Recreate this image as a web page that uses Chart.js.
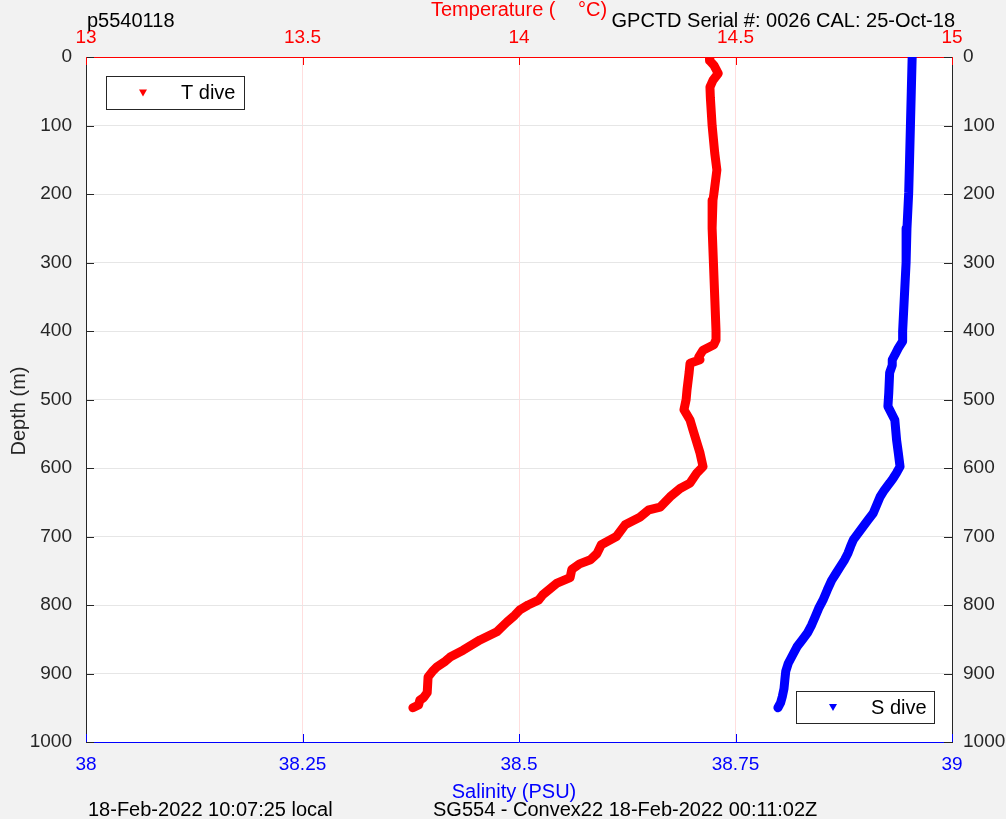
<!DOCTYPE html>
<html>
<head>
<meta charset="utf-8">
<script src="https://cdn.jsdelivr.net/npm/chart.js@4"></script>
<style>
html,body{margin:0;padding:0;background:#f2f2f2;}
#wrap{width:1006px;height:819px;position:relative;}
</style>
</head>
<body>
<div id="wrap"><canvas id="c" width="1006" height="819"></canvas></div>
<script>
// ---- data ----
const tempDepth = [0,5,12,24,34,44,60,100,140,165,200,209,250,300,350,400,413,420,428,438,442,447,460,486,500,515,530,545,578,598,607,622,630,642,657,661,672,683,700,712,725,734,740,748,760,768,785,793,800,807,815,825,839,851,866,876,882,890,897,905,928,935,939,946,950];
const tempValues = [14.441,14.440,14.450,14.460,14.448,14.441,14.442,14.446,14.452,14.457,14.450,14.448,14.446,14.449,14.452,14.455,14.455,14.450,14.425,14.415,14.418,14.395,14.393,14.388,14.386,14.381,14.395,14.402,14.418,14.425,14.411,14.395,14.372,14.349,14.326,14.300,14.279,14.245,14.225,14.190,14.180,14.165,14.140,14.122,14.118,14.088,14.055,14.045,14.021,14.002,13.990,13.972,13.949,13.910,13.871,13.841,13.830,13.811,13.800,13.790,13.788,13.780,13.771,13.768,13.755];

const salDepth = [0,50,100,150,198,250,300,350,400,415,425,435,442,450,461,490,510,530,559,578,598,607,615,622,632,642,654,666,676,686,705,714,724,734,744,754,764,778,793,805,817,829,841,851,861,873,885,897,909,922,934,943,950];
const salValues = [38.954,38.953,38.952,38.951,38.950,38.948,38.947,38.945,38.943,38.943,38.938,38.934,38.931,38.931,38.928,38.927,38.926,38.934,38.936,38.938,38.940,38.936,38.932,38.928,38.922,38.917,38.913,38.909,38.903,38.897,38.886,38.883,38.880,38.876,38.871,38.866,38.861,38.856,38.851,38.846,38.842,38.838,38.833,38.827,38.821,38.816,38.811,38.808,38.807,38.806,38.804,38.802,38.799];

const tempTicks = [13, 13.5, 14, 14.5, 15];
const salTicks = [38, 38.25, 38.5, 38.75, 39];
const depthTicks = [0,100,200,300,400,500,600,700,800,900,1000];

const FONT = "'Liberation Sans', Arial, sans-serif";
const DARK = '#262626';

const tData = tempDepth.map((d,i)=>({x:tempValues[i], y:d}));
const sData = salDepth.map((d,i)=>({x:salValues[i], y:d}));

function fixSize(prop, v){ return function(scale){ scale[prop] = v; }; }

const extras = {
  id:'extras',
  beforeDraw(chart){
    const {ctx, chartArea:a} = chart;
    ctx.save();
    ctx.fillStyle = '#f2f2f2';
    ctx.fillRect(0,0,chart.width,chart.height);
    ctx.fillStyle = '#ffffff';
    ctx.fillRect(a.left, a.top, a.right-a.left, a.bottom-a.top);
    ctx.restore();
  },
  afterDraw(chart){
    const {ctx, chartArea:a, scales} = chart;
    ctx.save();
    // inward tick marks
    ctx.lineWidth = 1;
    ctx.strokeStyle = DARK;
    depthTicks.forEach(v=>{
      const y = Math.round(scales.y.getPixelForValue(v))+0.5;
      ctx.beginPath(); ctx.moveTo(a.left, y); ctx.lineTo(a.left+8, y); ctx.stroke();
      ctx.beginPath(); ctx.moveTo(a.right, y); ctx.lineTo(a.right-8, y); ctx.stroke();
    });
    ctx.strokeStyle = '#ff0000';
    tempTicks.forEach(v=>{
      const x = Math.round(scales.xT.getPixelForValue(v))+0.5;
      ctx.beginPath(); ctx.moveTo(x, a.top); ctx.lineTo(x, a.top+8); ctx.stroke();
    });
    ctx.strokeStyle = '#0000ff';
    salTicks.forEach(v=>{
      const x = Math.round(scales.xS.getPixelForValue(v))+0.5;
      ctx.beginPath(); ctx.moveTo(x, a.bottom); ctx.lineTo(x, a.bottom-8); ctx.stroke();
    });
    // legends
    function legend(x0,y0,w,h,color,label){
      ctx.fillStyle = '#ffffff';
      ctx.fillRect(x0,y0,w,h);
      ctx.strokeStyle = DARK; ctx.lineWidth = 1;
      ctx.strokeRect(x0+0.5,y0+0.5,w,h);
      const mx = x0+37, my = y0+h/2;
      ctx.fillStyle = color;
      ctx.beginPath(); ctx.moveTo(mx-4,my-3); ctx.lineTo(mx+4,my-3); ctx.lineTo(mx,my+4); ctx.closePath(); ctx.fill();
      ctx.fillStyle = '#000000';
      ctx.font = '20px ' + FONT;
      ctx.textBaseline = 'middle'; ctx.textAlign = 'left';
      ctx.fillText(label, x0+75, my+1);
    }
    legend(106,76,138,33,'#ff0000','T dive');
    legend(796,691,138,32,'#0000ff','S dive');

    // titles & annotations
    ctx.font = '20px ' + FONT;
    ctx.textBaseline = 'middle';
    ctx.fillStyle = '#ff0000'; ctx.textAlign = 'left';
    ctx.fillText('Temperature (', 431, 10);
    ctx.fillText('°C)', 578, 10);
    ctx.fillStyle = '#000000';
    ctx.fillText('p5540118', 87, 21);
    ctx.textAlign = 'right';
    ctx.fillText('GPCTD Serial #: 0026 CAL: 25-Oct-18', 955, 21);
    ctx.textAlign = 'center';
    ctx.fillStyle = '#0000ff';
    ctx.fillText('Salinity (PSU)', 514, 792);
    ctx.fillStyle = '#000000'; ctx.textAlign = 'left';
    ctx.fillText('18-Feb-2022 10:07:25 local', 88, 810);
    ctx.fillText('SG554 - Convex22 18-Feb-2022 00:11:02Z', 433, 810);
    ctx.save();
    ctx.translate(19, 411); ctx.rotate(-Math.PI/2);
    ctx.textAlign = 'center'; ctx.fillStyle = DARK;
    ctx.fillText('Depth (m)', 0, 0);
    ctx.restore();
    ctx.restore();
  }
};

const plain = v => String(v);

new Chart(document.getElementById('c'), {
  type: 'scatter',
  data: {
    datasets: [
      { label:'T dive', data:tData, xAxisID:'xT', yAxisID:'y', showLine:true,
        borderColor:'#ff0000', backgroundColor:'#ff0000', borderWidth:9, pointRadius:0,
        borderJoinStyle:'round', borderCapStyle:'round', tension:0 },
      { label:'S dive', data:sData, xAxisID:'xS', yAxisID:'y', showLine:true,
        borderColor:'#0000ff', backgroundColor:'#0000ff', borderWidth:9, pointRadius:0,
        borderJoinStyle:'round', borderCapStyle:'round', tension:0 }
    ]
  },
  options: {
    responsive:false, animation:false,
    layout:{padding:0},
    plugins:{ legend:{display:false}, tooltip:{enabled:false} },
    scales: {
      xT: { type:'linear', position:'top', min:13, max:15,
        afterFit: fixSize('height', 57),
        afterBuildTicks: s => { s.ticks = tempTicks.map(v=>({value:v})); },
        ticks:{ color:'#ff0000', font:{family:FONT, size:19}, padding:8, maxRotation:0, callback: plain },
        grid:{ color:'#ffdede', drawTicks:false, lineWidth:1 },
        border:{ color:'#ff0000', width:1 } },
      xS: { type:'linear', position:'bottom', min:38, max:39,
        afterFit: fixSize('height', 77),
        afterBuildTicks: s => { s.ticks = salTicks.map(v=>({value:v})); },
        ticks:{ color:'#0000ff', font:{family:FONT, size:19}, padding:11, maxRotation:0, callback: plain },
        grid:{ display:false, drawTicks:false },
        border:{ color:'#0000ff', width:1 } },
      y: { type:'linear', position:'left', min:0, max:1000, reverse:true,
        afterFit: fixSize('width', 86),
        afterBuildTicks: s => { s.ticks = depthTicks.map(v=>({value:v})); },
        ticks:{ color:DARK, font:{family:FONT, size:19}, padding:14, callback: plain },
        grid:{ color:'#e6e6e6', drawTicks:false, lineWidth:1 },
        border:{ color:DARK, width:1 } },
      y2: { type:'linear', position:'right', min:0, max:1000, reverse:true,
        afterFit: fixSize('width', 54),
        afterBuildTicks: s => { s.ticks = depthTicks.map(v=>({value:v})); },
        ticks:{ color:DARK, font:{family:FONT, size:19}, padding:11, callback: plain },
        grid:{ display:false, drawTicks:false },
        border:{ color:DARK, width:1 } }
    }
  },
  plugins:[extras]
});
</script>
</body>
</html>
